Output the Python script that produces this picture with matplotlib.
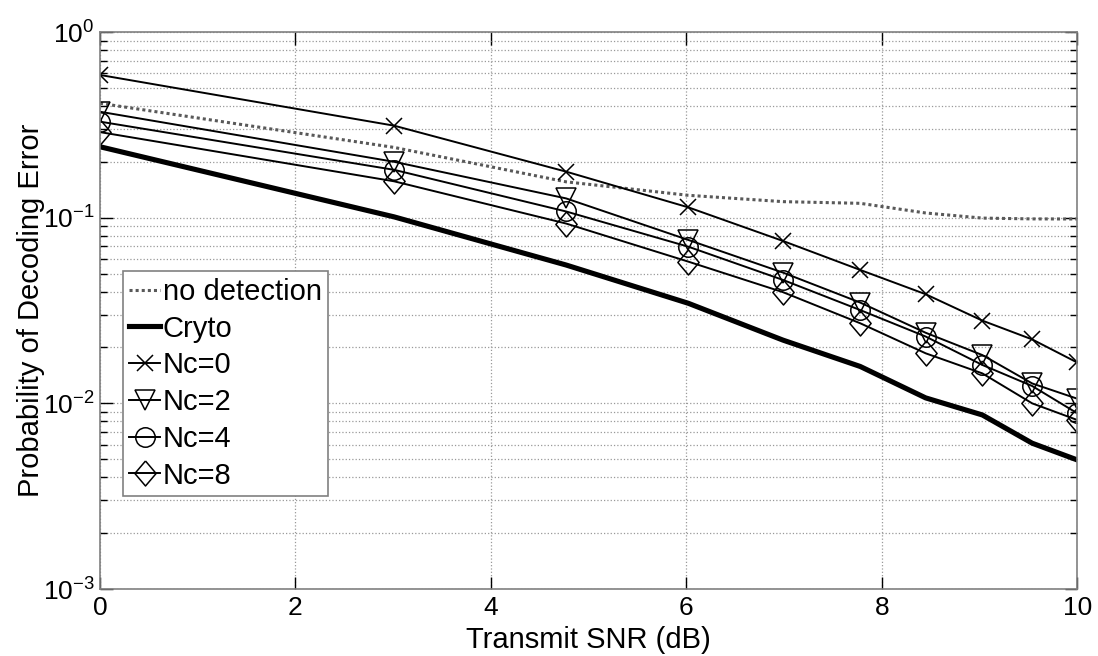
import matplotlib
matplotlib.use("Agg")
import matplotlib.pyplot as plt
from matplotlib.ticker import LogLocator, NullFormatter, FixedLocator, FuncFormatter
import numpy as np

plt.rcParams["font.family"] = ["Liberation Sans", "DejaVu Sans"]
plt.rcParams["mathtext.fontset"] = "custom"
plt.rcParams["mathtext.rm"] = "Liberation Sans"
plt.rcParams["mathtext.default"] = "regular"

# transmit SNR points (dB)
snr_db = [0, 3.01, 4.77, 6.02, 6.99, 7.78, 8.45, 9.03, 9.54, 10]

# probability of decoding error per scheme
no_detection = [0.413, 0.239, 0.156, 0.132, 0.122, 0.1195, 0.106, 0.0995, 0.0985, 0.0984]
cryto = [0.241, 0.101, 0.0556, 0.0346, 0.0219, 0.0158, 0.0107, 0.00866, 0.0061, 0.00496]
nc0 = [0.587, 0.313, 0.177, 0.1137, 0.0749, 0.0523, 0.0387, 0.0279, 0.0221, 0.0166]
nc2 = [0.372, 0.200, 0.127, 0.0759, 0.0506, 0.0349, 0.0240, 0.0182, 0.0128, 0.0106]
nc4 = [0.329, 0.181, 0.108, 0.0698, 0.0462, 0.0318, 0.0229, 0.0161, 0.0124, 0.00885]
nc8 = [0.289, 0.157, 0.093, 0.058, 0.0397, 0.0270, 0.0186, 0.0145, 0.0100, 0.00814]

diamond = [(0, 1), (0.85, 0), (0, -1), (-0.85, 0), (0, 1)]

fig = plt.figure(figsize=(10.98, 6.56), dpi=100)
ax = fig.add_axes([0.0911, 0.1021, 0.8899, 0.8491])

ax.semilogy(snr_db, no_detection, color="0.35", lw=2.2, dashes=(1, 1), label="no detection")
ax.semilogy(snr_db, cryto, "-", color="k", lw=3.7, label="Cryto")
ax.semilogy(snr_db, nc0, "-x", color="k", lw=1.4, ms=12, mew=1.1, label="Nc=0")
ax.semilogy(snr_db, nc2, "-v", color="k", lw=1.4, ms=15, mew=1.1, mfc="none", label="Nc=2")
ax.semilogy(snr_db, nc4, "-o", color="k", lw=1.4, ms=14, mew=1.1, mfc="none", label="Nc=4")
ax.semilogy(snr_db, nc8, "-", marker=diamond, color="k", lw=1.4, ms=18, mew=1.1, mfc="none", label="Nc=8")

ax.set_xlim(0, 10)
ax.set_ylim(1e-3, 1)
ax.xaxis.set_major_locator(FixedLocator([0, 2, 4, 6, 8, 10]))
ax.yaxis.set_major_locator(LogLocator(base=10, numticks=10))
ax.yaxis.set_minor_locator(LogLocator(base=10, subs=range(2, 10), numticks=20))
ax.yaxis.set_minor_formatter(NullFormatter())
ax.yaxis.set_major_formatter(FuncFormatter(lambda v, p: "10$^{%d}$" % round(np.log10(v))))

ax.grid(True, which="major", linestyle=":", color="0.6", lw=0.9)
ax.grid(True, which="minor", axis="y", linestyle=":", color="0.6", lw=0.9)

ax.tick_params(which="both", direction="in", top=True, right=True, labelsize=19, colors="k")
ax.tick_params(which="major", length=9, width=1)
ax.tick_params(which="minor", length=5, width=1)
ax.tick_params(axis="x", pad=5)
ax.tick_params(axis="y", pad=4)
for sp in ax.spines.values():
    sp.set_color("0.5")
    sp.set_linewidth(1.2)

ax.set_xlabel("Transmit SNR (dB)", fontsize=21, labelpad=4)
ax.set_ylabel("Probability of Decoding Error", fontsize=21)
ax.yaxis.set_label_coords(-0.056, 0.5)

leg = ax.legend(loc="lower left", bbox_to_anchor=(0.0235, 0.167), borderaxespad=0,
                fontsize=21, fancybox=False, edgecolor="0.5", framealpha=1,
                handlelength=1.05, handletextpad=0.1, labelspacing=0.3, borderpad=0.22)
leg.get_frame().set_linewidth(1.2)

fig.savefig("out.png", dpi=100)
